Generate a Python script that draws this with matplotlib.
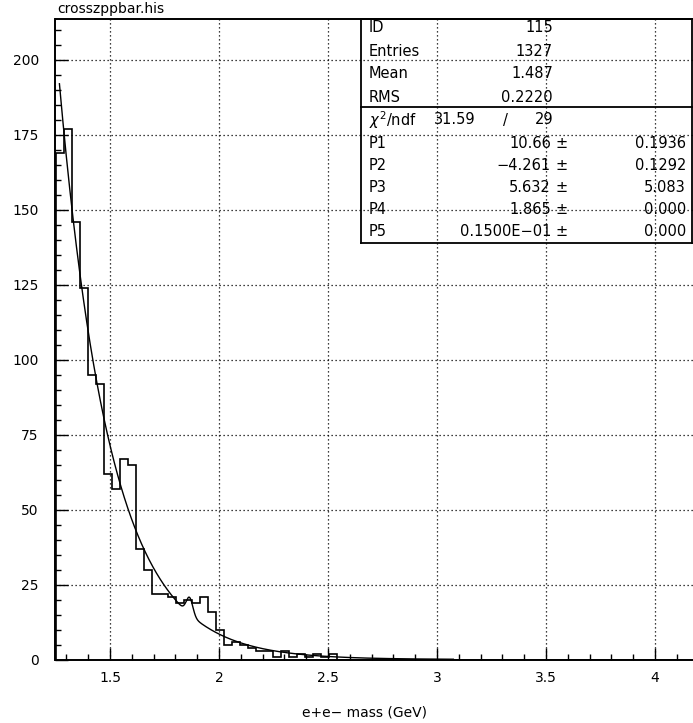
import numpy as np
import matplotlib
matplotlib.use("Agg")
import matplotlib.pyplot as plt
from matplotlib.ticker import MultipleLocator
from matplotlib.lines import Line2D

plt.rcParams['font.family'] = ['DejaVu Sans']

# ---------------- data ----------------
title = "crosszppbar.his"
xlabel = "e+e\u2212 mass (GeV)"
hist_lo, hist_hi, n_bins = 1.25, 4.2, 80
counts_nonzero = [169, 177, 146, 124, 95, 92, 62, 57, 67, 65, 37, 30, 22, 22,
                  21, 19, 20, 19, 21, 16, 10, 5, 6, 5, 4, 3, 3, 1, 3, 1, 2, 1,
                  2, 1, 2]
fit_params = [10.66, -4.261, 5.632, 1.865, 0.015]
fit_lo, fit_hi = 1.268, 3.075

stat_labels = ["ID", "Entries", "Mean", "RMS"]
stat_values = ["115", "1327", "1.487", "0.2220"]
chi2_value = "31.59"
ndf_value = "29"
par_labels = ["P1", "P2", "P3", "P4", "P5"]
par_values = ["10.66", "\u22124.261", "5.632", "1.865", "0.1500E\u221201"]
par_errors = ["0.1936", "0.1292", "5.083", "0.000", "0.000"]

# ---------------- figure ----------------
W, H = 693, 723
fig = plt.figure(figsize=(W / 100, H / 100), dpi=100)

ax_l, ax_r, ax_t, ax_b = 55.5, 698.6, 19.0, 659.5
ax = fig.add_axes([ax_l / W, 1 - ax_b / H, (ax_r - ax_l) / W, (ax_b - ax_t) / H])

counts = np.zeros(n_bins)
counts[:len(counts_nonzero)] = counts_nonzero
edges = np.linspace(hist_lo, hist_hi, n_bins + 1)
ax.stairs(counts, edges, color='black', lw=1.2, baseline=0)

xf = np.linspace(fit_lo, fit_hi, 1500)
p1, p2, p3, p4, p5 = fit_params
yf = np.exp(p1 + p2 * xf) + p3 * np.exp(-0.5 * ((xf - p4) / p5) ** 2)
ax.plot(xf, yf, color='black', lw=1.0)

ax.set_xlim(hist_lo, hist_hi)
ax.set_ylim(0, 213.5)

ax.xaxis.set_major_locator(MultipleLocator(0.5))
ax.xaxis.set_minor_locator(MultipleLocator(0.1))
ax.yaxis.set_major_locator(MultipleLocator(25))
ax.yaxis.set_minor_locator(MultipleLocator(5))
ax.tick_params(which='both', direction='in', color='black', width=1.0,
               top=False, right=False, labelsize=10)
ax.tick_params(which='major', length=9)
ax.tick_params(which='minor', length=4.5)
ax.tick_params(axis='y', which='major', pad=12)
ax.tick_params(axis='x', which='major', pad=8)

ax.grid(True, which='major', color='black', linestyle=(0, (1, 2.2)), lw=0.9)
for s in ax.spines.values():
    s.set_linewidth(1.4)

def fmt_x(v, pos):
    return ("%g" % v)
ax.xaxis.set_major_formatter(plt.FuncFormatter(fmt_x))

fig.text(57 / W, 1 - 9 / H, title, ha='left', va='center', fontsize=10)
fig.text(365 / W, 1 - 713 / H, xlabel, ha='center', va='center', fontsize=10)

# ---------------- stats box ----------------
def px(x, y):
    return x / W, 1 - y / H

bx0, bx1, by0, by1, bsep = 361, 692, 19, 243, 107
box_lines = [
    ([bx0, bx1], [by0, by0]), ([bx0, bx1], [by1, by1]),
    ([bx0, bx0], [by0, by1]), ([bx1, bx1], [by0, by1]),
    ([bx0, bx1], [bsep, bsep]),
]
for xs, ys in box_lines:
    fig.add_artist(Line2D([x / W for x in xs], [1 - y / H for y in ys],
                          color='black', lw=1.3))

fs = 10.5
row_y = [28, 51, 74, 97]
for lab, val, y in zip(stat_labels, stat_values, row_y):
    fig.text(*px(369, y), lab, ha='left', va='center', fontsize=fs)
    fig.text(*px(553, y), val, ha='right', va='center', fontsize=fs)

yc = 120
fig.text(*px(369, yc), r"$\chi^2$/ndf", ha='left', va='center', fontsize=fs)
fig.text(*px(476, yc), chi2_value, ha='right', va='center', fontsize=fs)
fig.text(*px(505, yc), "/", ha='center', va='center', fontsize=fs)
fig.text(*px(553, yc), ndf_value, ha='right', va='center', fontsize=fs)

par_y = [143, 165, 187, 209, 231]
for lab, val, err, y in zip(par_labels, par_values, par_errors, par_y):
    fig.text(*px(369, y), lab, ha='left', va='center', fontsize=fs)
    fig.text(*px(551, y), val, ha='right', va='center', fontsize=fs)
    fig.text(*px(562, y), "\u00b1", ha='center', va='center', fontsize=fs)
    fig.text(*px(686, y), err, ha='right', va='center', fontsize=fs)

fig.savefig("out.png", dpi=100)
